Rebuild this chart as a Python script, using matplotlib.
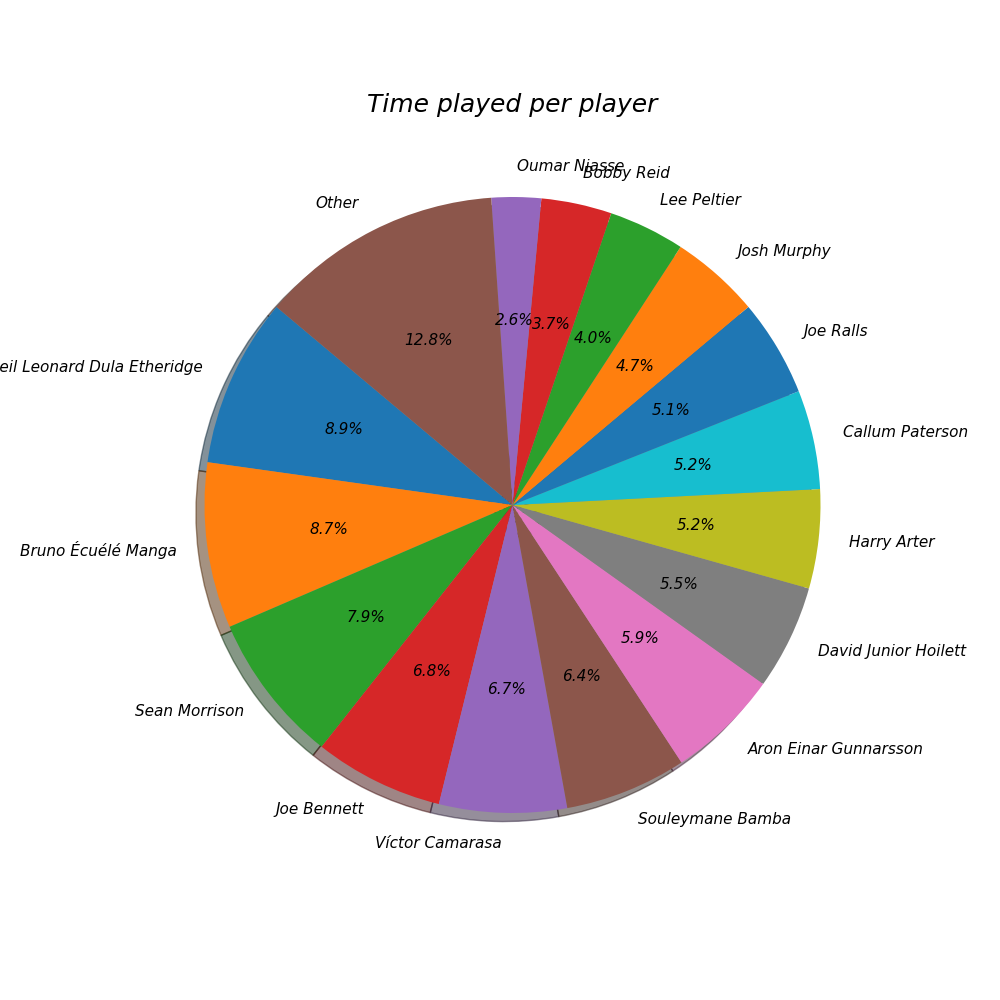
import matplotlib
matplotlib.use("Agg")
import matplotlib.pyplot as plt

players = [
    "Neil Leonard Dula Etheridge", "Bruno Écuélé Manga", "Sean Morrison",
    "Joe Bennett", "Víctor Camarasa", "Souleymane Bamba",
    "Aron Einar Gunnarsson", "David Junior Hoilett", "Harry Arter",
    "Callum Paterson", "Joe Ralls", "Josh Murphy", "Lee Peltier",
    "Bobby Reid", "Oumar Niasse", "Other",
]
share = [8.9, 8.7, 7.9, 6.8, 6.7, 6.4, 5.9, 5.5, 5.2, 5.2, 5.1, 4.7, 4.0,
         3.7, 2.6, 12.8]

fig, ax = plt.subplots(figsize=(10, 10), dpi=100)
ax.pie(share, labels=players, autopct="%1.1f%%", startangle=140, shadow=True,
       textprops=dict(fontsize=11, fontstyle="italic"))
ax.set_title("Time played per player", fontsize=18, fontstyle="italic")
fig.savefig("out.png")
